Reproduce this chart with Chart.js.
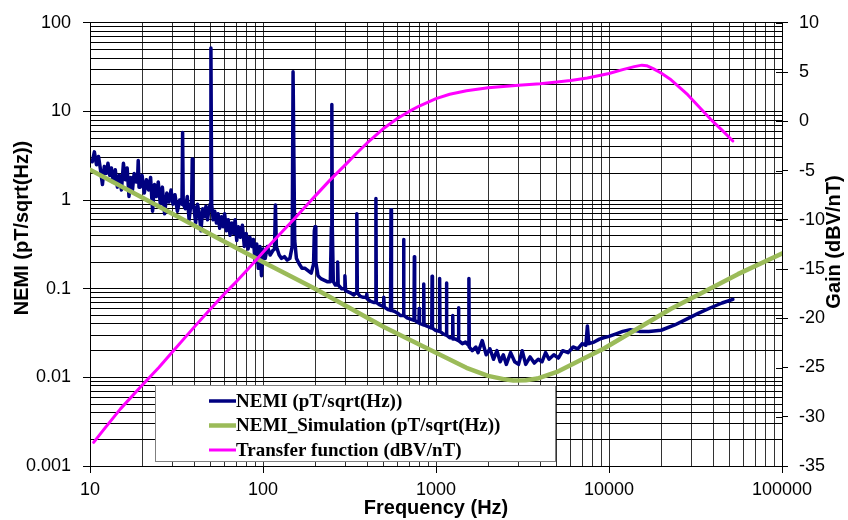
<!DOCTYPE html>
<html><head><meta charset="utf-8">
<script src="https://cdn.jsdelivr.net/npm/chart.js@4.4.1/dist/chart.umd.min.js"></script>
<style>html,body{margin:0;padding:0;background:#fff}canvas{display:block}</style>
</head><body>
<canvas id="c" width="848" height="520"></canvas>
<script>
const nemiFreq = [10.3,10.6,10.9,11.2,11.5,11.8,12.1,12.4,12.7,13.0,13.3,13.6,14.0,14.4,14.8,15.2,15.6,16.0,16.4,16.8,17.2,17.6,18.0,18.5,18.8,19.0,19.2,19.5,20.0,20.6,21.2,21.8,22.4,23.0,23.6,24.2,24.8,25.5,26.2,27.0,27.8,28.6,29.4,30.2,31.0,32.0,33.0,34.0,34.3,34.6,35.6,36.5,37.4,38.3,38.7,39.0,39.3,39.8,40.8,41.8,42.8,43.8,44.8,45.8,46.8,47.8,48.8,49.5,50.0,50.5,51.5,52.6,53.8,55.0,56.2,57.5,58.8,60.0,61.5,63.0,64.5,66.0,67.5,69.0,70.5,72.0,74.0,76.0,78.0,80.0,82.0,84.0,86.0,88.0,90.0,92.0,94.0,96.0,98.0,100,103,106,110,114,116.5,118,119.5,124,128,133,138,143,147.5,149.2,150.8,152.5,156,162,168,175,182,190,196,198,200,202,208,216,225,235,245,248.5,250,251.5,255,262,268,270,272,285,295,297.5,300,320,335,346,348.5,351,365,380,396,398,400,420,436,447,449.5,452,470,496,499,502,530,546,549.5,553,580,600,620,646,649.5,653,680,700,720,746,749.5,753,780,797,800,803,820,846,849.5,853,880,910,945,949.5,954,990,1044,1049.5,1055,1100,1144,1149.5,1155,1200,1245,1250,1255,1300,1344,1349.5,1355,1420,1480,1542,1549.5,1557,1620,1700,1750,1850,1950,2050,2150,2250,2350,2450,2550,2700,2850,3000,3150,3300,3500,3700,3900,4100,4300,4500,4800,5100,5400,5800,6200,6600,7000,7350,7500,7650,8200,8800,9300,10000,11000,12000,13300,15000,17000,20000,24000,28500,33000,38700,45000,52000];
const nemiValues = [2.7,3.5,2.5,3.1,2.2,1.5,2.4,2.0,2.6,1.9,2.3,1.6,2.2,1.4,1.9,1.3,2.6,1.7,2.3,1.1,1.8,1.3,2.0,1.6,1.6,2.8,1.4,1.4,1.9,1.2,1.7,1.3,1.8,0.75,1.5,1.1,1.6,0.9,1.4,0.7,1.2,0.95,1.3,0.9,1.15,0.75,1.0,0.9,5.8,0.9,0.8,1.1,0.6,0.9,0.9,2.9,0.85,0.85,0.55,0.9,0.7,0.45,0.8,0.65,0.85,0.6,0.8,0.9,52,0.9,0.6,0.75,0.55,0.7,0.48,0.65,0.5,0.7,0.45,0.6,0.4,0.55,0.42,0.6,0.35,0.5,0.38,0.52,0.3,0.42,0.28,0.38,0.3,0.36,0.2,0.32,0.17,0.3,0.14,0.28,0.22,0.3,0.24,0.27,0.28,0.88,0.3,0.24,0.22,0.23,0.21,0.22,0.3,28,28,0.35,0.22,0.19,0.17,0.17,0.16,0.15,0.19,0.45,0.5,0.2,0.14,0.13,0.125,0.12,0.12,0.5,12,0.5,0.12,0.11,0.11,0.2,0.11,0.1,0.1,0.14,0.095,0.09,0.085,0.09,0.7,0.09,0.082,0.08,0.08,0.087,0.077,0.072,0.07,0.07,1.04,0.07,0.066,0.063,0.08,0.062,0.058,0.057,0.78,0.057,0.055,0.053,0.05,0.05,0.36,0.05,0.047,0.046,0.045,0.044,0.23,0.044,0.042,0.041,0.06,0.041,0.04,0.039,0.113,0.039,0.038,0.037,0.036,0.138,0.036,0.034,0.033,0.13,0.033,0.031,0.03,0.116,0.03,0.028,0.028,0.05,0.027,0.027,0.026,0.061,0.026,0.024,0.025,0.023,0.13,0.022,0.02,0.022,0.019,0.026,0.018,0.021,0.016,0.02,0.015,0.018,0.014,0.019,0.015,0.014,0.02,0.014,0.017,0.0145,0.016,0.015,0.019,0.016,0.018,0.0165,0.02,0.019,0.022,0.021,0.024,0.023,0.038,0.024,0.025,0.027,0.028,0.029,0.031,0.033,0.0345,0.033,0.033,0.034,0.039,0.046,0.053,0.061,0.069,0.076];
const simFreq = [10,20,50,100,200,500,1000,1500,2000,2500,2800,3300,3850,5000,7000,9300,15000,22700,35000,55600,100000];
const simValues = [2.2,1.07,0.41,0.2,0.1,0.037,0.019,0.0128,0.0104,0.0095,0.0092,0.0093,0.0097,0.0115,0.016,0.021,0.0365,0.059,0.091,0.146,0.25];
const tfFreq = [10.5,12,15,20,25,30,40,50,60,70,80,90,100,120,150,175,200,243,300,350,400,450,500,600,700,800,1000,1200,1500,2000,3000,4000,5000,6000,7500,10000,12000,14000,15500,16500,18000,20000,22500,25000,28500,33000,38700,45000,52000];
const tfValues = [-32.6,-31.3,-29.2,-26.8,-25.0,-23.4,-20.9,-19.0,-17.5,-16.3,-15.2,-14.2,-13.3,-11.8,-10.0,-8.7,-7.6,-6.0,-4.4,-3.2,-2.2,-1.4,-0.7,0.3,1.0,1.55,2.3,2.75,3.1,3.4,3.65,3.8,4.0,4.15,4.4,4.85,5.25,5.55,5.7,5.65,5.35,4.9,4.3,3.6,2.7,1.5,0.2,-0.9,-2.0];
const leftTickLabels = ['0.001','0.01','0.1','1','10','100'];
const bottomTickLabels = ['10','100','1000','10000','100000'];
const seriesNames = ['NEMI (pT/sqrt(Hz))','NEMI_Simulation (pT/sqrt(Hz))','Transfer function (dBV/nT)'];
const xTitle = 'Frequency (Hz)';
const yTitle = 'NEMI (pT/sqrt(Hz))';
const y2Title = 'Gain (dBV/nT)';

const SANS = '"Liberation Sans", Arial, sans-serif';
const SERIF = '"Liberation Serif", "Times New Roman", serif';

function logTicks(e0, e1) {
  const out = [];
  for (let e = e0; e < e1; e++) for (let m = 1; m < 10; m++) out.push({value: Number((m * Math.pow(10, e)).toPrecision(6))});
  out.push({value: Math.pow(10, e1)});
  return out;
}
function isDecade(v) { const l = Math.log10(v); return Math.abs(l - Math.round(l)) < 1e-9; }
const toXY = (xs, ys) => xs.map((x, i) => ({x, y: ys[i]}));

const overlay = {
  id: 'overlay',
  afterDraw(chart) {
    const ctx = chart.ctx;
    ctx.save();
    const s2 = chart.scales.y2;
    ctx.strokeStyle = '#000'; ctx.lineWidth = 1;
    s2.ticks.forEach(t => {
      const y = Math.round(s2.getPixelForValue(t.value)) + 0.5;
      ctx.beginPath(); ctx.moveTo(s2.left - 6, y); ctx.lineTo(s2.left, y); ctx.stroke();
    });
    ctx.fillStyle = '#000';
    ctx.textAlign = 'center';
    ctx.textBaseline = 'middle';
    ctx.font = 'bold 20px ' + SANS;
    ctx.save(); ctx.translate(22, 228); ctx.rotate(-Math.PI / 2); ctx.fillText(yTitle, 0, 0); ctx.restore();
    ctx.save(); ctx.translate(834, 242); ctx.rotate(-Math.PI / 2); ctx.fillText(y2Title, 0, 0); ctx.restore();
    ctx.fillStyle = '#fff';
    ctx.fillRect(155, 385, 401, 77);
    ctx.strokeStyle = '#7f7f7f';
    ctx.lineWidth = 1;
    ctx.strokeRect(155.5, 385.5, 400, 76);
    const rows = [401, 425.5, 450];
    chart.data.datasets.forEach((ds, i) => {
      ctx.strokeStyle = ds.borderColor;
      ctx.lineWidth = ds.borderWidth;
      ctx.beginPath(); ctx.moveTo(209, rows[i]); ctx.lineTo(236, rows[i]); ctx.stroke();
      ctx.fillStyle = '#000';
      ctx.textAlign = 'left';
      ctx.font = 'bold 19px ' + SERIF;
      ctx.fillText(ds.label, 236, rows[i] + 1);
    });
    ctx.restore();
  }
};

new Chart(document.getElementById('c'), {
  type: 'line',
  data: {
    datasets: [
      {label: seriesNames[0], data: toXY(nemiFreq, nemiValues), borderColor: '#000080', borderWidth: 3.5, yAxisID: 'y', order: 3},
      {label: seriesNames[1], data: toXY(simFreq, simValues), borderColor: '#9BBB59', borderWidth: 4.5, yAxisID: 'y', order: 2},
      {label: seriesNames[2], data: toXY(tfFreq, tfValues), borderColor: '#FF00FF', borderWidth: 3, yAxisID: 'y2', order: 1}
    ]
  },
  options: {
    responsive: false,
    animation: false,
    layout: {padding: {top: 20, left: 0, right: 0, bottom: 0}},
    elements: {point: {radius: 0}, line: {tension: 0, borderJoinStyle: 'round', borderCapStyle: 'round'}},
    plugins: {legend: {display: false}, tooltip: {enabled: false}},
    scales: {
      x: {
        type: 'logarithmic', min: 10, max: 100000, position: 'bottom',
        afterBuildTicks: s => { s.ticks = logTicks(1, 5); },
        afterFit: s => { s.height = 54; },
        ticks: {autoSkip: false, maxRotation: 0, padding: 6, color: '#000', font: {family: SANS, size: 18},
          callback: v => isDecade(v) ? bottomTickLabels[Math.round(Math.log10(v)) - 1] : ''},
        grid: {color: '#333', lineWidth: 1, tickLength: 7, tickColor: c => (c.tick && isDecade(c.tick.value)) ? '#000' : 'rgba(0,0,0,0)'},
        border: {color: '#000', width: 1},
        title: {display: true, text: xTitle, color: '#000', font: {family: SANS, size: 20, weight: 'bold'}, padding: {top: 0, bottom: 0}}
      },
      y: {
        type: 'logarithmic', min: 0.001, max: 100, position: 'left',
        afterBuildTicks: s => { s.ticks = logTicks(-3, 2); },
        afterFit: s => { s.width = 90; },
        ticks: {autoSkip: false, padding: 12, color: '#000', font: {family: SANS, size: 18},
          callback: v => isDecade(v) ? leftTickLabels[Math.round(Math.log10(v)) + 3] : ''},
        grid: {color: '#000', lineWidth: 1, tickLength: 7, tickColor: c => (c.tick && isDecade(c.tick.value)) ? '#000' : 'rgba(0,0,0,0)'},
        border: {color: '#000', width: 1}
      },
      y2: {
        type: 'linear', min: -35, max: 10, position: 'right',
        afterFit: s => { s.width = 66; },
        ticks: {stepSize: 5, padding: 11, color: '#000', font: {family: SANS, size: 18}},
        grid: {drawOnChartArea: false, tickLength: 6, tickColor: '#000'},
        border: {color: '#000', width: 1}
      }
    }
  },
  plugins: [overlay]
});
</script>
</body></html>
